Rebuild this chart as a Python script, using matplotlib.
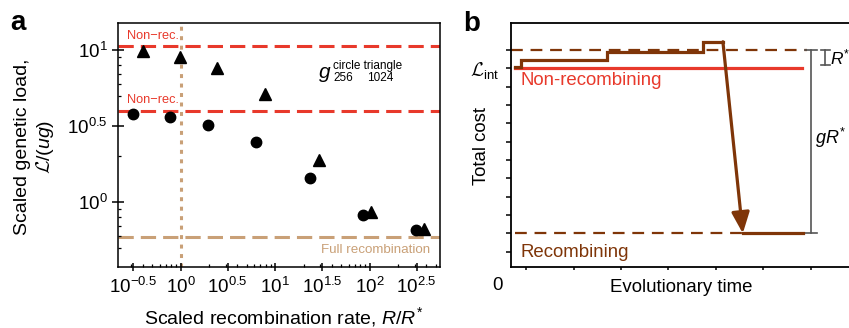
import numpy as np
import matplotlib
matplotlib.use('Agg')
import matplotlib.pyplot as plt
from matplotlib.ticker import FixedLocator, FixedFormatter, LogLocator, NullFormatter

plt.rcParams['font.family'] = ['Liberation Sans', 'DejaVu Sans']
plt.rcParams['mathtext.fontset'] = 'custom'
plt.rcParams['mathtext.rm'] = 'Liberation Sans'
plt.rcParams['mathtext.it'] = 'Liberation Sans:italic'
plt.rcParams['mathtext.bf'] = 'Liberation Sans:bold'
plt.rcParams['mathtext.cal'] = 'cmsy10'

RED = '#e8392b'
TAN = '#c9a077'
BROWN = '#7f3508'
GREY = '#555555'

# ---- panel a data ----
rate_256 = [0.316, 0.78, 1.93, 6.3, 23.6, 85, 309]
load_256 = [3.82, 3.63, 3.22, 2.49, 1.44, 0.826, 0.658]
rate_1024 = [0.40, 0.98, 2.4, 7.9, 29.4, 104, 378]
load_1024 = [9.89, 8.99, 7.66, 5.12, 1.90, 0.867, 0.663]
nonrec_1024 = 10.6
nonrec_256 = 3.97
full_rec = 0.594
x_tick_exps = ['-0.5', '0', '0.5', '1', '1.5', '2', '2.5']
y_tick_exps = ['0', '0.5', '1']
y_minor = [0.5, 0.6, 0.7, 0.8, 0.9, 2, 5, 6, 7, 8, 9]

# ---- panel b data (schematic) ----
step_t = [-0.23, -0.105, 1.70, 3.74, 4.15]
step_cost = [11.1, 11.45, 11.88, 12.45, 12.45]
jump_to = (4.57, 2.0)
rec_end = 5.84
L_int = 11.0
nonrec_span = (-0.23, 5.82)
top_dash = 12.0
top_span = (-0.32, 5.92)
bottom_dash = 2.0
bottom_span = (-0.23, 4.57)

fig = plt.figure(figsize=(8.49, 3.28), dpi=100)

# ================= panel a =================
ax = fig.add_axes([118/849, 1-267/328, 322/849, 244/328])
ax.set_xscale('log')
ax.set_yscale('log')

dash = (0, (5, 2.3))
ax.axhline(nonrec_1024, color=RED, lw=2.2, ls=dash, zorder=1)
ax.axhline(nonrec_256, color=RED, lw=2.2, ls=dash, zorder=1)
ax.axhline(full_rec, color=TAN, lw=2.2, ls=dash, zorder=1)
ax.axvline(1, color=TAN, lw=2.2, ls=(0, (1.3, 1.8)), zorder=1)

ax.plot(rate_256, load_256, 'o', color='k', ms=7.5, zorder=3, clip_on=False)
ax.plot(rate_1024, load_1024, '^', color='k', ms=8.5, zorder=3, clip_on=False)

ax.set_xlim(10**-0.662, 10**2.745)
ax.set_ylim(10**-0.425, 10**1.177)

ax.xaxis.set_major_locator(FixedLocator([10**float(e) for e in x_tick_exps]))
ax.xaxis.set_major_formatter(FixedFormatter(['$10^{%s}$' % e for e in x_tick_exps]))
ax.xaxis.set_minor_locator(LogLocator(base=10, subs=np.arange(2, 10), numticks=20))
ax.xaxis.set_minor_formatter(NullFormatter())
ax.yaxis.set_major_locator(FixedLocator([10**float(e) for e in y_tick_exps]))
ax.yaxis.set_major_formatter(FixedFormatter(['$10^{%s}$' % e for e in y_tick_exps]))
ax.yaxis.set_minor_locator(FixedLocator(y_minor))
ax.yaxis.set_minor_formatter(NullFormatter())

ax.tick_params(axis='x', which='major', direction='inout', length=6, width=1.1,
               labelsize=13.5, pad=4)
ax.tick_params(axis='y', which='major', direction='inout', length=9, width=1.1,
               labelsize=13.5, pad=3)
ax.tick_params(which='minor', direction='in', length=2.5, width=0.9)
for s in ax.spines.values():
    s.set_linewidth(1.1)

ax.text(10**-0.57, 10**1.072, 'Non\u2212rec.', color=RED, fontsize=9.2,
        ha='left', va='baseline')
ax.text(10**-0.57, 10**0.652, 'Non\u2212rec.', color=RED, fontsize=9.2,
        ha='left', va='baseline')
ax.text(0.969, 10**-0.335, 'Full recombination', color=TAN, fontsize=9.6,
        ha='right', va='baseline', transform=ax.get_yaxis_transform())

ax.text(0.624, 0.775, 'g', fontsize=15, style='italic', transform=ax.transAxes,
        ha='left', va='baseline')
ax.text(0.668, 0.811, 'circle triangle', fontsize=8.5, transform=ax.transAxes,
        ha='left', va='baseline')
ax.text(0.668, 0.762, '256', fontsize=8.5, transform=ax.transAxes,
        ha='left', va='baseline')
ax.text(0.772, 0.762, '1024', fontsize=8.5, transform=ax.transAxes,
        ha='left', va='baseline')

fig.text(284/849, 1-324/328, 'Scaled recombination rate, $R/R^{*}$',
         fontsize=14, ha='center', va='baseline')
fig.text(35/849, 1-147/328, 'Scaled genetic load,\n$\\mathcal{L}/(ug)$',
         fontsize=14, rotation=90, ha='center', va='center',
         multialignment='center', linespacing=1.15)

# ================= panel b =================
bx = fig.add_axes([511/849, 1-267.3/328, 338/849, 244.6/328])
bx.set_xlim(-0.32, 6.81)
bx.set_ylim(0.15, 13.49)
bx.spines['right'].set_visible(False)
for s in ['left', 'top', 'bottom']:
    bx.spines[s].set_linewidth(1.3)

bdash = (0, (5.3, 3.5))
bx.plot(top_span, [top_dash, top_dash], color=BROWN, lw=1.6, ls=bdash)
bx.plot(bottom_span, [bottom_dash, bottom_dash], color=BROWN, lw=1.6, ls=bdash)
bx.plot(nonrec_span, [L_int, L_int], color=RED, lw=2.3, zorder=2)

bx.plot(step_t, step_cost, color=BROWN, lw=2.3, drawstyle='steps-post', zorder=3,
        solid_joinstyle='miter')
bx.annotate('', xy=jump_to, xytext=(step_t[-1], step_cost[-1]),
            arrowprops=dict(arrowstyle='-|>,head_length=0.75,head_width=0.32',
                            color=BROWN, lw=2.3, mutation_scale=17,
                            shrinkA=0, shrinkB=0), zorder=3)
bx.plot([jump_to[0], rec_end], [bottom_dash, bottom_dash], color=BROWN, lw=2.3,
        zorder=3)

# brackets on the right
bx.plot([6.01, 6.01], [bottom_dash, top_dash], color=GREY, lw=1.2, clip_on=False)
for yv in (bottom_dash, top_dash):
    bx.plot([5.88, 6.14], [yv, yv], color=GREY, lw=1.2, clip_on=False)
bx.plot([6.31, 6.31], [11.2, top_dash], color=GREY, lw=1.2, clip_on=False)
for yv in (11.2, top_dash):
    bx.plot([6.21, 6.41], [yv, yv], color=GREY, lw=1.2, clip_on=False)
bx.text(6.40, 11.6, '$R^{*}$', fontsize=12.5, ha='left', va='center')
bx.text(6.10, 7.2, '$gR^{*}$', fontsize=13, ha='left', va='center')

bx.text(-0.13, 10.08, 'Non-recombining', color=RED, fontsize=13.4,
        ha='left', va='baseline')
bx.text(-0.13, 0.73, 'Recombining', color=BROWN, fontsize=13.4,
        ha='left', va='baseline')

bx.xaxis.set_major_locator(FixedLocator(range(0, 7)))
bx.xaxis.set_major_formatter(NullFormatter())
bx.yaxis.set_major_locator(FixedLocator(range(1, 13)))
bx.yaxis.set_major_formatter(FixedFormatter(
    ['$\\mathcal{L}_{\\mathrm{int}}$' if v == 11 else '' for v in range(1, 13)]))
bx.tick_params(axis='y', direction='out', length=3.5, width=1.1, labelsize=13.5, pad=5)
bx.tick_params(axis='x', direction='out', length=2.5, width=1.1)

fig.text(497/849, 1-285/328, '0', fontsize=13.4, ha='center', va='center')
fig.text(681/849, 1-288/328, 'Evolutionary time', fontsize=13.4,
         ha='center', va='center')
fig.text(481/849, 1-146/328, 'Total cost', fontsize=13.4, rotation=90,
         ha='center', va='center')

fig.text(10/849, 1-30/328, 'a', fontsize=20, weight='bold', va='baseline')
fig.text(463/849, 1-31/328, 'b', fontsize=20, weight='bold', va='baseline')

fig.savefig('out.png', dpi=100)
